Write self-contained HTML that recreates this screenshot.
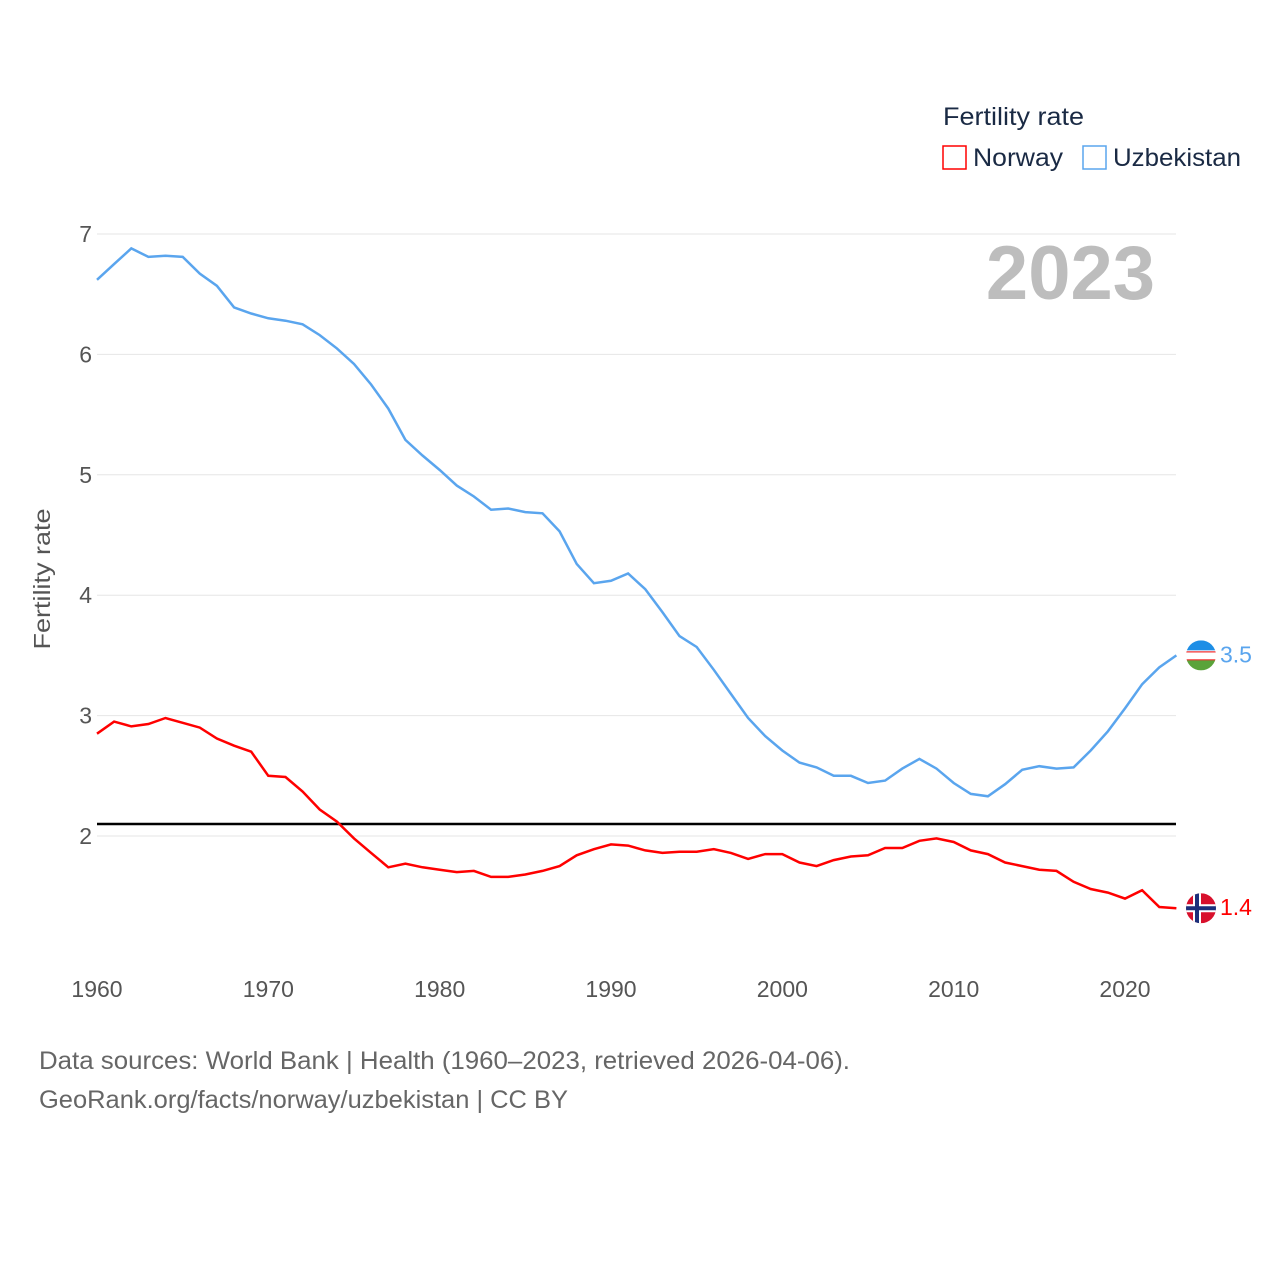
<!DOCTYPE html>
<html><head><meta charset="utf-8">
<style>
body{margin:0;background:#fff;}
svg text{font-family:"Liberation Sans",sans-serif;}
</style></head>
<body>
<svg id="chart" width="1280" height="1280" viewBox="0 0 1280 1280" xmlns="http://www.w3.org/2000/svg">
<rect width="1280" height="1280" fill="#fff"/>
<g id="grid"></g>
<g id="ticks"></g>
<text x="50" y="579" transform="rotate(-90 50 579)" text-anchor="middle" font-size="23" fill="#555" textLength="141" lengthAdjust="spacingAndGlyphs">Fertility rate</text>
<text x="1155" y="299" text-anchor="end" font-size="76" font-weight="bold" fill="#bdbdbd">2023</text>
<g>
<text x="943" y="125" font-size="25" fill="#1a2a44" textLength="141" lengthAdjust="spacingAndGlyphs">Fertility rate</text>
<rect x="943" y="146" width="23" height="23" fill="none" stroke="#f00" stroke-width="1.5"/>
<text x="973" y="166" font-size="25" fill="#1a2a44" textLength="90" lengthAdjust="spacingAndGlyphs">Norway</text>
<rect x="1083" y="146" width="23" height="23" fill="none" stroke="#5aa5ee" stroke-width="1.5"/>
<text x="1113" y="166" font-size="25" fill="#1a2a44" textLength="128" lengthAdjust="spacingAndGlyphs">Uzbekistan</text>
</g>
<line id="refline" x1="97" x2="1176" stroke="#000" stroke-width="2.5"/>
<path id="uzb" fill="none" stroke="#5aa5ee" stroke-width="2.5"/>
<path id="nor" fill="none" stroke="#f00" stroke-width="2.5"/>
<g id="ends"></g>
<text x="39" y="1069" font-size="25" fill="#666" textLength="811" lengthAdjust="spacingAndGlyphs">Data sources: World Bank | Health (1960–2023, retrieved 2026-04-06).</text>
<text x="39" y="1108" font-size="25" fill="#666" textLength="529" lengthAdjust="spacingAndGlyphs">GeoRank.org/facts/norway/uzbekistan | CC BY</text>
</svg>
<script>
const years=[];for(let y=1960;y<=2023;y++)years.push(y);
const uzbekistan=[6.62,6.75,6.88,6.81,6.82,6.81,6.67,6.57,6.39,6.34,6.30,6.28,6.25,6.16,6.05,5.92,5.75,5.55,5.29,5.16,5.04,4.91,4.82,4.71,4.72,4.69,4.68,4.53,4.26,4.10,4.12,4.18,4.05,3.86,3.66,3.57,3.38,3.18,2.98,2.83,2.71,2.61,2.57,2.50,2.50,2.44,2.46,2.56,2.64,2.56,2.44,2.35,2.33,2.43,2.55,2.58,2.56,2.57,2.71,2.87,3.06,3.26,3.40,3.50];
const norway=[2.85,2.95,2.91,2.93,2.98,2.94,2.90,2.81,2.75,2.70,2.50,2.49,2.37,2.22,2.12,1.98,1.86,1.74,1.77,1.74,1.72,1.70,1.71,1.66,1.66,1.68,1.71,1.75,1.84,1.89,1.93,1.92,1.88,1.86,1.87,1.87,1.89,1.86,1.81,1.85,1.85,1.78,1.75,1.80,1.83,1.84,1.90,1.90,1.96,1.98,1.95,1.88,1.85,1.78,1.75,1.72,1.71,1.62,1.56,1.53,1.48,1.55,1.41,1.40];
const yTicks=[2,3,4,5,6,7];
const xTicks=[1960,1970,1980,1990,2000,2010,2020];
const replacement=[2.1];
const X=v=>97+(v-1960)*1028/60;
const Y=v=>836-(v-2)*120.4;
const NS="http://www.w3.org/2000/svg";
const grid=document.getElementById('grid'),ticks=document.getElementById('ticks');
yTicks.forEach(t=>{
 const l=document.createElementNS(NS,'line');
 
 
 l.setAttribute('x1',97);l.setAttribute('x2',1176);l.setAttribute('y1',Y(t));l.setAttribute('y2',Y(t));
 l.setAttribute('stroke','#e6e6e6');l.setAttribute('stroke-width','1');grid.appendChild(l);
 const tx=document.createElementNS(NS,'text');
 
 
 tx.setAttribute('x',92);tx.setAttribute('y',Y(t)+8);tx.setAttribute('text-anchor','end');
 tx.setAttribute('font-size','23');tx.setAttribute('fill','#555');tx.textContent=t;ticks.appendChild(tx);
});
xTicks.forEach(t=>{
 const tx=document.createElementNS(NS,'text');
 
 
 tx.setAttribute('x',X(t));tx.setAttribute('y',997);tx.setAttribute('text-anchor','middle');
 tx.setAttribute('font-size','23');tx.setAttribute('fill','#555');tx.textContent=t;ticks.appendChild(tx);
});
const rl=document.getElementById('refline');
rl.setAttribute('y1',Y(replacement[0]));rl.setAttribute('y2',Y(replacement[0]));
const pathOf=a=>a.map((v,i)=>(i?'L':'M')+X(years[i]).toFixed(1)+','+Y(v).toFixed(1)).join('');
document.getElementById('uzb').setAttribute('d',pathOf(uzbekistan));
document.getElementById('nor').setAttribute('d',pathOf(norway));
const ends=document.getElementById('ends');
function endMark(val,name,color,flag){
 const cy=Y(val),cx=1201;
 const g=document.createElementNS(NS,'g');
 
 
 g.innerHTML=flag(cx,cy);
 const t=document.createElementNS(NS,'text');
 
 
 t.setAttribute('x',1220);t.setAttribute('y',cy+7);t.setAttribute('font-size','23');t.setAttribute('fill',color);
 t.textContent=val.toFixed(1);g.appendChild(t);ends.appendChild(g);
}
endMark(uzbekistan[uzbekistan.length-1],'uzbekistan','#5aa5ee',(cx,cy)=>`<clipPath id="cu"><circle cx="${cx}" cy="${cy}" r="15"/></clipPath><g clip-path="url(#cu)"><rect x="${cx-15}" y="${cy-15}" width="30" height="10" fill="#1e8ee6"/><rect x="${cx-15}" y="${cy-5}" width="30" height="10" fill="#fff"/><rect x="${cx-15}" y="${cy-4}" width="30" height="1" fill="#e00"/><rect x="${cx-15}" y="${cy+4}" width="30" height="1" fill="#e00"/><rect x="${cx-15}" y="${cy+5}" width="30" height="10" fill="#5aa33a"/></g>`);
endMark(norway[norway.length-1],'norway','#f00',(cx,cy)=>`<clipPath id="cn"><circle cx="${cx}" cy="${cy}" r="15"/></clipPath><g clip-path="url(#cn)"><rect x="${cx-15}" y="${cy-15}" width="30" height="30" fill="#d8102c"/><rect x="${cx-8}" y="${cy-15}" width="8" height="30" fill="#fff"/><rect x="${cx-15}" y="${cy-4}" width="30" height="8" fill="#fff"/><rect x="${cx-6}" y="${cy-15}" width="4" height="30" fill="#1c2f7a"/><rect x="${cx-15}" y="${cy-2}" width="30" height="4" fill="#1c2f7a"/></g>`);
</script>
</body></html>
